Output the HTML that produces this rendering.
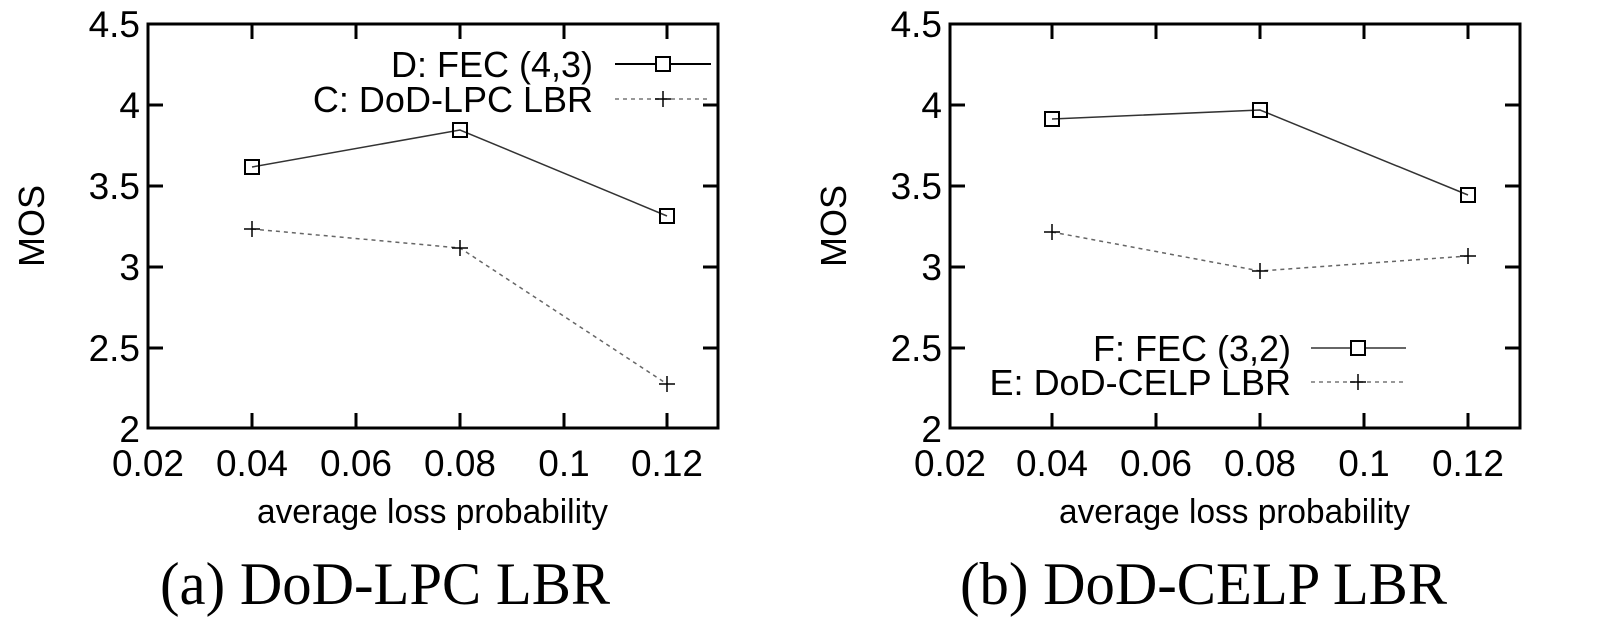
<!DOCTYPE html>
<html><head><meta charset="utf-8"><style>html,body{margin:0;padding:0;background:#fff}svg{display:block}</style></head>
<body>
<svg width="1610" height="621" xmlns="http://www.w3.org/2000/svg" font-family="Liberation Sans, sans-serif" fill="#000">
<!-- Left plot -->
<g>
<rect x="148" y="24" width="570" height="404" fill="none" stroke="#000" stroke-width="3"/>
<g stroke="#000" stroke-width="3">
<line x1="252" y1="428" x2="252" y2="413"/><line x1="356" y1="428" x2="356" y2="413"/><line x1="460" y1="428" x2="460" y2="413"/><line x1="564" y1="428" x2="564" y2="413"/><line x1="667" y1="428" x2="667" y2="413"/>
<line x1="252" y1="24" x2="252" y2="39"/><line x1="356" y1="24" x2="356" y2="39"/><line x1="460" y1="24" x2="460" y2="39"/><line x1="564" y1="24" x2="564" y2="39"/><line x1="667" y1="24" x2="667" y2="39"/>
<line x1="148" y1="105" x2="163" y2="105"/><line x1="148" y1="186" x2="163" y2="186"/><line x1="148" y1="267" x2="163" y2="267"/><line x1="148" y1="348" x2="163" y2="348"/>
<line x1="718" y1="105" x2="703" y2="105"/><line x1="718" y1="186" x2="703" y2="186"/><line x1="718" y1="267" x2="703" y2="267"/><line x1="718" y1="348" x2="703" y2="348"/>
</g>
<g font-size="37" text-anchor="end">
<text x="140" y="37">4.5</text><text x="140" y="118">4</text><text x="140" y="199">3.5</text><text x="140" y="280">3</text><text x="140" y="361">2.5</text><text x="140" y="442">2</text>
</g>
<g font-size="37" text-anchor="middle">
<text x="148" y="476">0.02</text><text x="252" y="476">0.04</text><text x="356" y="476">0.06</text><text x="460" y="476">0.08</text><text x="564" y="476">0.1</text><text x="667" y="476">0.12</text>
</g>
<text x="257" y="523" font-size="34" textLength="351" lengthAdjust="spacingAndGlyphs">average loss probability</text>
<text transform="translate(44,226) rotate(-90)" font-size="36" text-anchor="middle">MOS</text>
<text x="160" y="604" font-size="60" font-family="Liberation Serif, serif" textLength="450" lengthAdjust="spacingAndGlyphs">(a) DoD-LPC LBR</text>
<polyline points="252,167 460,130 667,216" fill="none" stroke="#333" stroke-width="1.5"/>
<polyline points="252,229 460,248 667,384" fill="none" stroke="#666" stroke-width="1.5" stroke-dasharray="4,4"/>
<g fill="none" stroke="#000" stroke-width="2">
<rect x="245" y="160" width="14" height="14"/><rect x="453" y="123" width="14" height="14"/><rect x="660" y="209" width="14" height="14"/>
</g>
<path d="M244 229h16M252 221v16M452 248h16M460 240v16M659 384h16M667 376v16" stroke="#000" stroke-width="1.5"/>
<g font-size="36" text-anchor="end"><text x="593" y="77">D: FEC (4,3)</text><text x="593" y="112">C: DoD-LPC LBR</text></g>
<line x1="615" y1="64" x2="711" y2="64" stroke="#000" stroke-width="2"/>
<rect x="656" y="57" width="14" height="14" fill="#fff" stroke="#000" stroke-width="2"/>
<line x1="615" y1="99" x2="711" y2="99" stroke="#777" stroke-width="1.5" stroke-dasharray="4,4"/>
<path d="M655 99h16M663 91v16" stroke="#000" stroke-width="1.5"/>
</g>
<!-- Right plot -->
<g>
<rect x="950" y="24" width="570" height="404" fill="none" stroke="#000" stroke-width="3"/>
<g stroke="#000" stroke-width="3">
<line x1="1052" y1="428" x2="1052" y2="413"/><line x1="1156" y1="428" x2="1156" y2="413"/><line x1="1260" y1="428" x2="1260" y2="413"/><line x1="1364" y1="428" x2="1364" y2="413"/><line x1="1468" y1="428" x2="1468" y2="413"/>
<line x1="1052" y1="24" x2="1052" y2="39"/><line x1="1156" y1="24" x2="1156" y2="39"/><line x1="1260" y1="24" x2="1260" y2="39"/><line x1="1364" y1="24" x2="1364" y2="39"/><line x1="1468" y1="24" x2="1468" y2="39"/>
<line x1="950" y1="105" x2="965" y2="105"/><line x1="950" y1="186" x2="965" y2="186"/><line x1="950" y1="267" x2="965" y2="267"/><line x1="950" y1="348" x2="965" y2="348"/>
<line x1="1520" y1="105" x2="1505" y2="105"/><line x1="1520" y1="186" x2="1505" y2="186"/><line x1="1520" y1="267" x2="1505" y2="267"/><line x1="1520" y1="348" x2="1505" y2="348"/>
</g>
<g font-size="37" text-anchor="end">
<text x="942" y="37">4.5</text><text x="942" y="118">4</text><text x="942" y="199">3.5</text><text x="942" y="280">3</text><text x="942" y="361">2.5</text><text x="942" y="442">2</text>
</g>
<g font-size="37" text-anchor="middle">
<text x="950" y="476">0.02</text><text x="1052" y="476">0.04</text><text x="1156" y="476">0.06</text><text x="1260" y="476">0.08</text><text x="1364" y="476">0.1</text><text x="1468" y="476">0.12</text>
</g>
<text x="1059" y="523" font-size="34" textLength="351" lengthAdjust="spacingAndGlyphs">average loss probability</text>
<text transform="translate(846,226) rotate(-90)" font-size="36" text-anchor="middle">MOS</text>
<text x="960" y="604" font-size="60" font-family="Liberation Serif, serif" textLength="487" lengthAdjust="spacingAndGlyphs">(b) DoD-CELP LBR</text>
<polyline points="1052,119 1260,110 1468,195" fill="none" stroke="#333" stroke-width="1.5"/>
<polyline points="1052,232 1260,271 1468,256" fill="none" stroke="#666" stroke-width="1.5" stroke-dasharray="4,4"/>
<g fill="none" stroke="#000" stroke-width="2">
<rect x="1045" y="112" width="14" height="14"/><rect x="1253" y="103" width="14" height="14"/><rect x="1461" y="188" width="14" height="14"/>
</g>
<path d="M1044 232h16M1052 224v16M1252 271h16M1260 263v16M1460 256h16M1468 248v16" stroke="#000" stroke-width="1.5"/>
<g font-size="36" text-anchor="end"><text x="1291" y="361">F: FEC (3,2)</text><text x="1291" y="395">E: DoD-CELP LBR</text></g>
<line x1="1311" y1="348" x2="1406" y2="348" stroke="#333" stroke-width="1.5"/>
<rect x="1351" y="341" width="14" height="14" fill="#fff" stroke="#000" stroke-width="2"/>
<line x1="1311" y1="382" x2="1406" y2="382" stroke="#777" stroke-width="1.5" stroke-dasharray="4,4"/>
<path d="M1350 382h16M1358 374v16" stroke="#000" stroke-width="1.5"/>
</g>
</svg>
</body></html>
